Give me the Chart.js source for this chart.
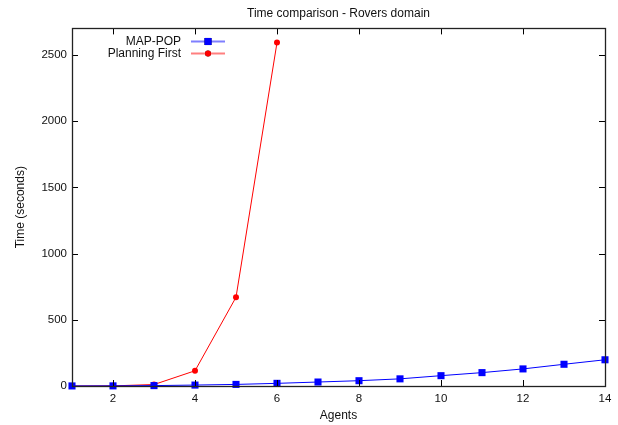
<!DOCTYPE html>
<html>
<head>
<meta charset="utf-8">
<script src="https://cdn.jsdelivr.net/npm/chart.js@4.4.0/dist/chart.umd.min.js"></script>
<style>
  html, body { margin: 0; padding: 0; background: #fff; }
  #wrap { width: 618px; height: 425px; }
</style>
</head>
<body>
<div id="wrap"><canvas id="timeChart" width="618" height="425"></canvas></div>
<script>
// data
const agents = [1, 2, 3, 4, 5, 6, 7, 8, 9, 10, 11, 12, 13, 14];
const mapPop = [0.5, 1, 3, 7, 12, 20, 30, 40, 54, 78, 101, 129, 164, 198];
const planningFirst = [0, 1, 11, 115, 670, 2593];
const xTicks = [2, 4, 6, 8, 10, 12, 14];
const yTicks = [0, 500, 1000, 1500, 2000, 2500];

const FONT = "'Liberation Sans', Arial, Helvetica, sans-serif";
Chart.defaults.font.family = FONT;
Chart.defaults.font.size = 12;
Chart.defaults.color = '#111';

function toPoints(xs, ys) {
  return ys.map((y, i) => ({ x: xs[i], y: y }));
}

// gnuplot style frame with inward ticks on all four sides
const framePlugin = {
  id: 'frame',
  afterDatasetsDraw(chart) {
    const { ctx, chartArea: a, scales } = chart;
    ctx.save();
    ctx.strokeStyle = '#000';
    ctx.lineWidth = 1;
    ctx.beginPath();
    scales.x.ticks.forEach(t => {
      const px = Math.round(scales.x.getPixelForValue(t.value)) + 0.5;
      ctx.moveTo(px, a.bottom); ctx.lineTo(px, a.bottom - 6);
      ctx.moveTo(px, a.top); ctx.lineTo(px, a.top + 6);
    });
    scales.y.ticks.forEach(t => {
      const py = Math.round(scales.y.getPixelForValue(t.value)) + 0.5;
      ctx.moveTo(a.left, py); ctx.lineTo(a.left + 6, py);
      ctx.moveTo(a.right, py); ctx.lineTo(a.right - 6, py);
    });
    ctx.stroke();
    ctx.strokeStyle = '#222';
    ctx.lineWidth = 1.3;
    ctx.strokeRect(Math.round(a.left) + 0.5, Math.round(a.top) + 0.5,
      Math.round(a.right - a.left), Math.round(a.bottom - a.top));
    ctx.restore();
  }
};

// legend: text right aligned, sample line with marker to the right
const keyPlugin = {
  id: 'key',
  afterDraw(chart) {
    const ctx = chart.ctx;
    const textRight = 181, lineL = 191, lineR = 225, y0 = 41.5, dy = 12;
    ctx.save();
    ctx.font = '12px ' + FONT;
    ctx.textAlign = 'right';
    ctx.textBaseline = 'middle';
    chart.data.datasets.forEach((ds, i) => {
      const y = y0 + i * dy;
      ctx.fillStyle = '#111';
      ctx.fillText(ds.label, textRight, y);
      ctx.globalAlpha = 0.5;
      ctx.strokeStyle = ds.borderColor;
      ctx.lineWidth = 2;
      ctx.beginPath();
      ctx.moveTo(lineL, y); ctx.lineTo(lineR, y);
      ctx.stroke();
      ctx.globalAlpha = 1;
      Chart.helpers.drawPoint(ctx, {
        pointStyle: ds.pointStyle, radius: ds.pointRadius, rotation: 0, borderWidth: 0
      }, (lineL + lineR) / 2, y);
      ctx.fillStyle = ds.pointBackgroundColor;
      ctx.fill();
    });
    ctx.restore();
  }
};

const ctx = document.getElementById('timeChart').getContext('2d');
const chart = new Chart(ctx, {
  type: 'line',
  data: {
    datasets: [{
      label: 'MAP-POP',
      data: toPoints(agents, mapPop),
      borderColor: '#0000ff',
      backgroundColor: '#0000ff',
      pointBackgroundColor: '#0000ff',
      pointBorderWidth: 0,
      pointStyle: 'rect',
      pointRadius: 5,
      borderWidth: 1,
      tension: 0,
      clip: false
    }, {
      label: 'Planning First',
      data: toPoints(agents, planningFirst),
      borderColor: '#ff0000',
      backgroundColor: '#ff0000',
      pointBackgroundColor: '#ff0000',
      pointBorderWidth: 0,
      pointStyle: 'circle',
      pointRadius: 3,
      borderWidth: 1,
      tension: 0,
      clip: false
    }]
  },
  options: {
    responsive: false,
    animation: false,
    layout: { padding: { left: 0, right: 13, top: 0, bottom: 0 } },
    plugins: {
      legend: { display: false },
      tooltip: { enabled: false },
      title: {
        display: true,
        fullSize: false,
        text: 'Time comparison - Rovers domain',
        font: { size: 12, weight: 'normal' },
        color: '#111',
        padding: { top: 6, bottom: 8 }
      }
    },
    scales: {
      x: {
        type: 'linear',
        min: 1,
        max: 14,
        afterBuildTicks: s => { s.ticks = xTicks.map(v => ({ value: v })); },
        afterFit: s => { s.height = 39; },
        grid: { display: false, drawTicks: false },
        border: { display: false },
        ticks: { padding: 6, maxRotation: 0, font: { size: 11.5 }, callback: v => String(v) },
        title: { display: true, text: 'Agents', font: { size: 12 }, padding: { top: 2, bottom: 2 } }
      },
      y: {
        type: 'linear',
        min: 0,
        max: 2700,
        afterBuildTicks: s => { s.ticks = yTicks.map(v => ({ value: v })); },
        afterFit: s => { s.width = 72; },
        grid: { display: false, drawTicks: false },
        border: { display: false },
        ticks: { padding: 5, font: { size: 11.5 }, callback: v => String(v) },
        title: { display: true, text: 'Time (seconds)', font: { size: 12 }, padding: { top: 13, bottom: 0 } }
      }
    }
  },
  plugins: [framePlugin, keyPlugin]
});
</script>
</body>
</html>
